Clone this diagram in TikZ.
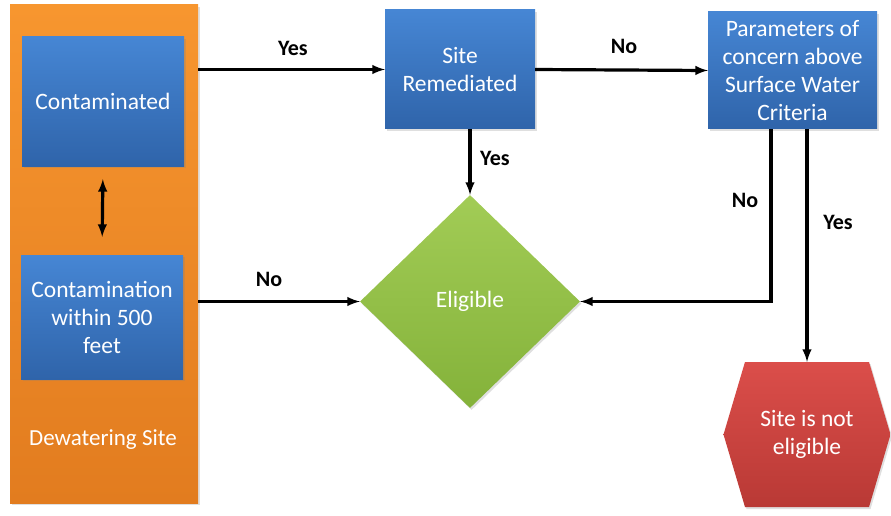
\documentclass[tikz,border=0pt]{standalone}
\usepackage{fontspec}
\setmainfont{Carlito}
\usepackage{tikz}
\usetikzlibrary{shapes.geometric,shapes.symbols,shadows}

\definecolor{siteorange}{HTML}{F7962F}
\definecolor{siteorangedk}{HTML}{E27C1F}
\definecolor{boxblue}{HTML}{4686D4}
\definecolor{boxbluedk}{HTML}{2F64AA}
\definecolor{eliggreen}{HTML}{A2CC56}
\definecolor{eliggreendk}{HTML}{84B23A}
\definecolor{notred}{HTML}{DB4E4A}
\definecolor{notreddk}{HTML}{B93935}

\tikzset{
  shade/.style={drop shadow={opacity=0.25, shadow xshift=1.5pt, shadow yshift=-2pt}},
  bluebox/.style={shade, top color=boxblue, bottom color=boxbluedk, text=white, align=center, inner sep=0pt,
    font=\fontsize{23.5}{28}\selectfont},
  yesno/.style={font=\bfseries\fontsize{22}{26}\selectfont, text=black},
  flow/.style={black, line width=3.2pt, -latex}
}

\begin{document}
\begin{tikzpicture}[x=1pt,y=-1pt]
\useasboundingbox (0,0) rectangle (891,516);

	\node[shade, top color=siteorange, bottom color=siteorangedk, minimum width=188, minimum height=498] (site) at (104,254) {};
	\node[text=white, font=\fontsize{23}{28}\selectfont] (sitename) at (103,440) {Dewatering Site};

	\node[bluebox, minimum width=162, minimum height=129] (cont) at (103,101.5) {Contaminated};
	\node[bluebox, minimum width=162, minimum height=124] (near) at (102,317) {Contamination\\within 500\\feet};
	\node[bluebox, minimum width=150, minimum height=119] (remed) at (460,69.5) {Site\\Remediated};
	\node[bluebox, minimum width=169, minimum height=117] (param) at (792.5,70.5) {Parameters of\\concern above\\Surface Water\\Criteria};

	\node[diamond, shade, top color=eliggreen, bottom color=eliggreendk, text=white, inner sep=0pt,
		minimum width=220, minimum height=213, font=\fontsize{23.5}{28}\selectfont] (elig) at (470,301.5) {Eligible};
	\node[signal, shade, signal to=east and west, signal pointer angle=147, top color=notred, bottom color=notreddk,
		text=white, align=center, inner sep=0pt, minimum width=167, minimum height=145,
		font=\fontsize{23.5}{28}\selectfont] (notelig) at (807,434.5) {Site is not\\eligible};

	% connectors
	\draw[flow, latex-latex, shorten <=13pt, shorten >=18pt] (cont.south) -- (near.north);
	\draw[flow] (site.east |- remed.west) -- (remed.west);
	\draw[flow] (site.east |- elig.west) -- (elig.west);
	\draw[flow] (elig.north |- remed.south) -- (elig.north);
	\draw[flow] (remed.east) -- (param.west);
	\draw[flow] ([xshift=-21.5pt]param.south) |- (elig.east);
	\draw[flow] (notelig.north |- param.south) -- (notelig.north);

	\node[yesno] (yes1) at (293,48) {Yes};
	\node[yesno] (no1) at (269,279) {No};
	\node[yesno] (yes2) at (495,158) {Yes};
	\node[yesno] (no2) at (624,46) {No};
	\node[yesno] (no3) at (745,200) {No};
	\node[yesno] (yes3) at (838,222) {Yes};
\end{tikzpicture}
\end{document}
